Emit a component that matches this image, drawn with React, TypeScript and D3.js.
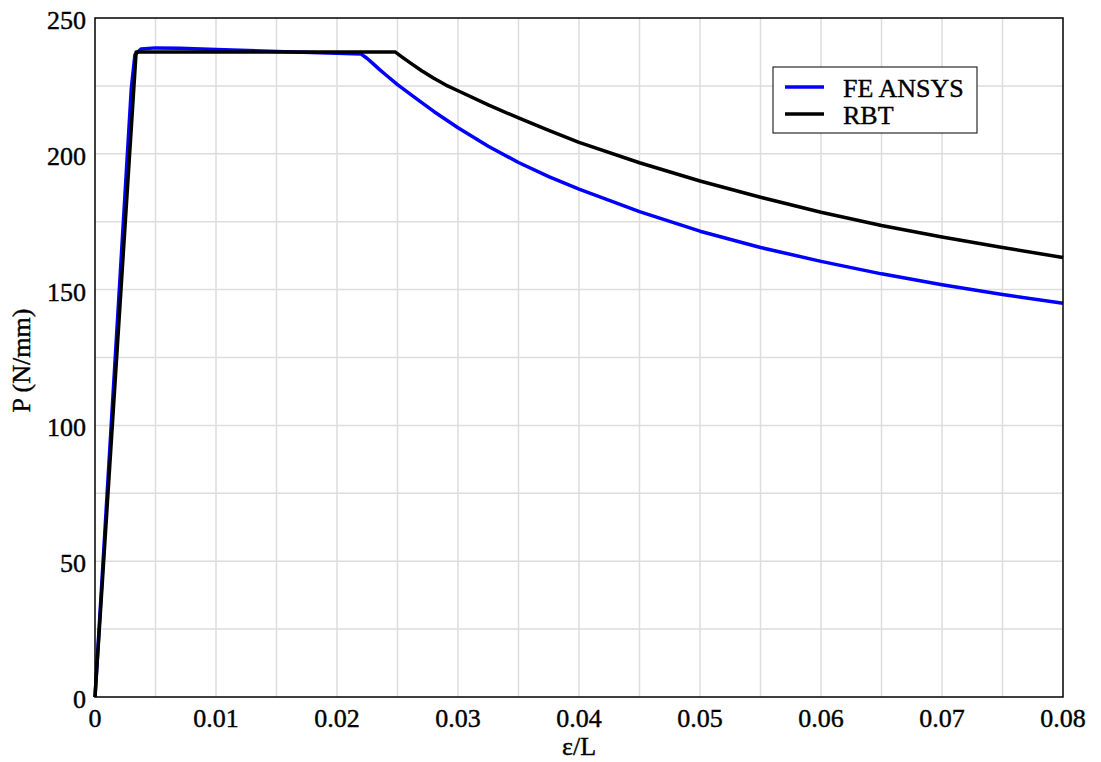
import React, { useEffect, useRef } from 'react';
import * as d3 from 'd3';

// FE ANSYS curve (strain ratio, load)
const feStrain = [0, 0.003, 0.0033, 0.0038, 0.005, 0.007, 0.01, 0.015, 0.02, 0.022, 0.0225, 0.023, 0.0235, 0.024, 0.025, 0.0265, 0.028, 0.03, 0.0325, 0.035, 0.0375, 0.04, 0.045, 0.05, 0.055, 0.06, 0.065, 0.07, 0.075, 0.08];
const feLoad = [0, 224, 236.5, 238.6, 239, 238.9, 238.4, 237.7, 237, 236.7, 235.1, 233.1, 231.1, 229.2, 225.5, 220.5, 215.6, 209.6, 202.8, 196.8, 191.6, 187, 178.7, 171.5, 165.5, 160.4, 155.8, 151.8, 148.2, 145];

// RBT curve
const rbtStrain = [0, 0.0034, 0.0248, 0.0255, 0.0262, 0.027, 0.028, 0.029, 0.03, 0.0325, 0.035, 0.0375, 0.04, 0.045, 0.05, 0.055, 0.06, 0.065, 0.07, 0.075, 0.08];
const rbtLoad = [0, 237.5, 237.5, 235.2, 233, 230.6, 227.8, 225.3, 223.2, 218, 213.2, 208.6, 204.2, 196.7, 190, 184, 178.5, 173.6, 169.4, 165.5, 161.8];

const xTicks = [0, 0.01, 0.02, 0.03, 0.04, 0.05, 0.06, 0.07, 0.08];
const yTicks = [0, 50, 100, 150, 200, 250];
const seriesNames = ['FE ANSYS', 'RBT'];
const seriesColors = ['#0000ff', '#000000'];

const W = 1101;
const H = 762;
const margin = { left: 95, right: 38, top: 18, bottom: 65 };
const font = '"Liberation Serif", "Times New Roman", serif';
const fs = 26;

export default function App() {
  const ref = useRef<SVGSVGElement>(null);

  useEffect(() => {
    const svg = d3.select(ref.current);
    svg.selectAll('*').remove();

    const x = d3.scaleLinear().domain([0, 0.08]).range([margin.left, W - margin.right]);
    const y = d3.scaleLinear().domain([0, 250]).range([H - margin.bottom, margin.top]);

    // grid every 0.005 / 25
    const gx = d3.range(0.005, 0.08, 0.005);
    const gy = d3.range(25, 250, 25);
    const grid = svg.append('g').attr('stroke', '#dddddd').attr('stroke-width', 1.5);
    grid.selectAll('line.v').data(gx).enter().append('line')
      .attr('x1', d => x(d)).attr('x2', d => x(d))
      .attr('y1', y(0)).attr('y2', y(250));
    grid.selectAll('line.h').data(gy).enter().append('line')
      .attr('x1', x(0)).attr('x2', x(0.08))
      .attr('y1', d => y(d)).attr('y2', d => y(d));

    const line = d3.line<[number, number]>()
      .x(d => x(d[0]))
      .y(d => y(d[1]));

    const fe = feStrain.map((s, i) => [s, feLoad[i]] as [number, number]);
    const rbt = rbtStrain.map((s, i) => [s, rbtLoad[i]] as [number, number]);

    svg.append('path').attr('d', line(fe))
      .attr('fill', 'none').attr('stroke', seriesColors[0]).attr('stroke-width', 3.5)
      .attr('stroke-linejoin', 'round');
    svg.append('path').attr('d', line(rbt))
      .attr('fill', 'none').attr('stroke', seriesColors[1]).attr('stroke-width', 3.5)
      .attr('stroke-linejoin', 'round');

    // frame
    svg.append('rect')
      .attr('x', x(0)).attr('y', y(250))
      .attr('width', x(0.08) - x(0)).attr('height', y(0) - y(250))
      .attr('fill', 'none').attr('stroke', '#000').attr('stroke-width', 1.5);

    const txt = (sel: any) => sel
      .attr('font-family', font).attr('font-size', fs)
      .attr('fill', '#000').attr('stroke', '#000').attr('stroke-width', 0.4);

    // tick labels
    svg.append('g').selectAll('text').data(xTicks).enter().append('text')
      .attr('x', d => x(d)).attr('y', y(0) + 30)
      .attr('text-anchor', 'middle')
      .call(txt)
      .text(d => d3.format('')(d));
    svg.append('g').selectAll('text').data(yTicks).enter().append('text')
      .attr('x', x(0) - 9).attr('y', d => y(d) + 11)
      .attr('text-anchor', 'end')
      .call(txt)
      .text(d => d);

    // axis titles
    svg.append('text')
      .attr('x', (x(0) + x(0.08)) / 2).attr('y', 755)
      .attr('text-anchor', 'middle')
      .call(txt)
      .text('ε/L');
    svg.append('text')
      .attr('transform', `translate(30, ${(y(0) + y(250)) / 2 + 3}) rotate(-90)`)
      .attr('text-anchor', 'middle')
      .call(txt)
      .text('P (N/mm)');

    // legend
    const lg = svg.append('g');
    lg.append('rect')
      .attr('x', 773).attr('y', 67).attr('width', 204).attr('height', 66)
      .attr('fill', '#fff').attr('stroke', '#000').attr('stroke-width', 1);
    seriesNames.forEach((name, i) => {
      const yy = 87 + i * 27;
      lg.append('line')
        .attr('x1', 785).attr('x2', 824).attr('y1', yy).attr('y2', yy)
        .attr('stroke', seriesColors[i]).attr('stroke-width', 3.5);
      lg.append('text')
        .attr('x', 843).attr('y', yy + 10)
        .call(txt)
        .text(name);
    });
  }, []);

  return (
    <svg ref={ref} width={W} height={H} style={{ position: 'absolute', left: 0, top: 0, background: '#fff' }} />
  );
}
